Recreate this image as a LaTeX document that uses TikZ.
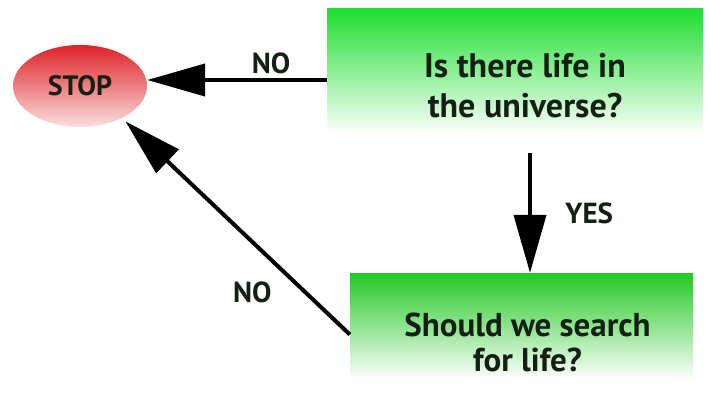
\documentclass[tikz,border=0pt]{standalone}
\usepackage{fontspec}
\setmainfont{PT Sans}
\usepackage{xcolor}
\usetikzlibrary{arrows.meta,shapes.geometric,positioning}
\definecolor{boxgreen}{RGB}{30,222,48}
\definecolor{boxgreendark}{RGB}{34,200,34}
\definecolor{stopred}{RGB}{222,34,40}
\definecolor{stoppink}{RGB}{250,222,222}
\definecolor{inkdark}{RGB}{20,32,20}

\begin{document}
\begin{tikzpicture}[
    x=1pt, y=-1pt,
    stopnode/.style={ellipse, minimum width=134pt, minimum height=82pt,
        top color=stopred, bottom color=stoppink, draw=none,
        font=\bfseries\fontsize{28}{32}\selectfont, text=inkdark},
    question/.style={rectangle, draw=none, top color=boxgreen, bottom color=white},
    qtext/.style={align=center, text=inkdark, font=\bfseries\fontsize{34}{40}\selectfont},
    flow/.style={line width=4pt, -{Triangle[length=58pt,width=32pt]}},
    answer/.style={text=inkdark, font=\bfseries\fontsize{29}{32}\selectfont}]

\useasboundingbox (0,0) rectangle (711,395);

\node[stopnode] (stop) at (80,86) {STOP};
\node[question, minimum width=376pt, minimum height=126pt] (life) at (515,72) {};
\node[qtext] (lifetext) at ([xshift=10pt,yshift=-14pt]life.center) {Is there life in\\the universe?};
\node[question, top color=boxgreendark, minimum width=343pt, minimum height=107pt] (search) at (521.5,326.5) {};
\node[qtext, font=\bfseries\fontsize{33}{35}\selectfont] (searchtext) at ([xshift=6pt,yshift=-16pt]search.center) {Should we search\\for life?};

% connectors
\draw[flow] ([yshift=-8pt]life.west) -- ([yshift=-8pt]life.west -| stop.east)
    node[answer, pos=0.31, above=1pt] {NO};
\draw[flow] ([xshift=15pt,yshift=-18pt]life.south) coordinate (down) -- (down |- search.north)
    node[answer, midway, right=30pt] {YES};
\draw[flow] ([yshift=-8pt]search.west) -- ([shift={(4pt,-3pt)}]stop.-38)
    node[answer, pos=0.3, below left=8pt] {NO};

\end{tikzpicture}
\end{document}
